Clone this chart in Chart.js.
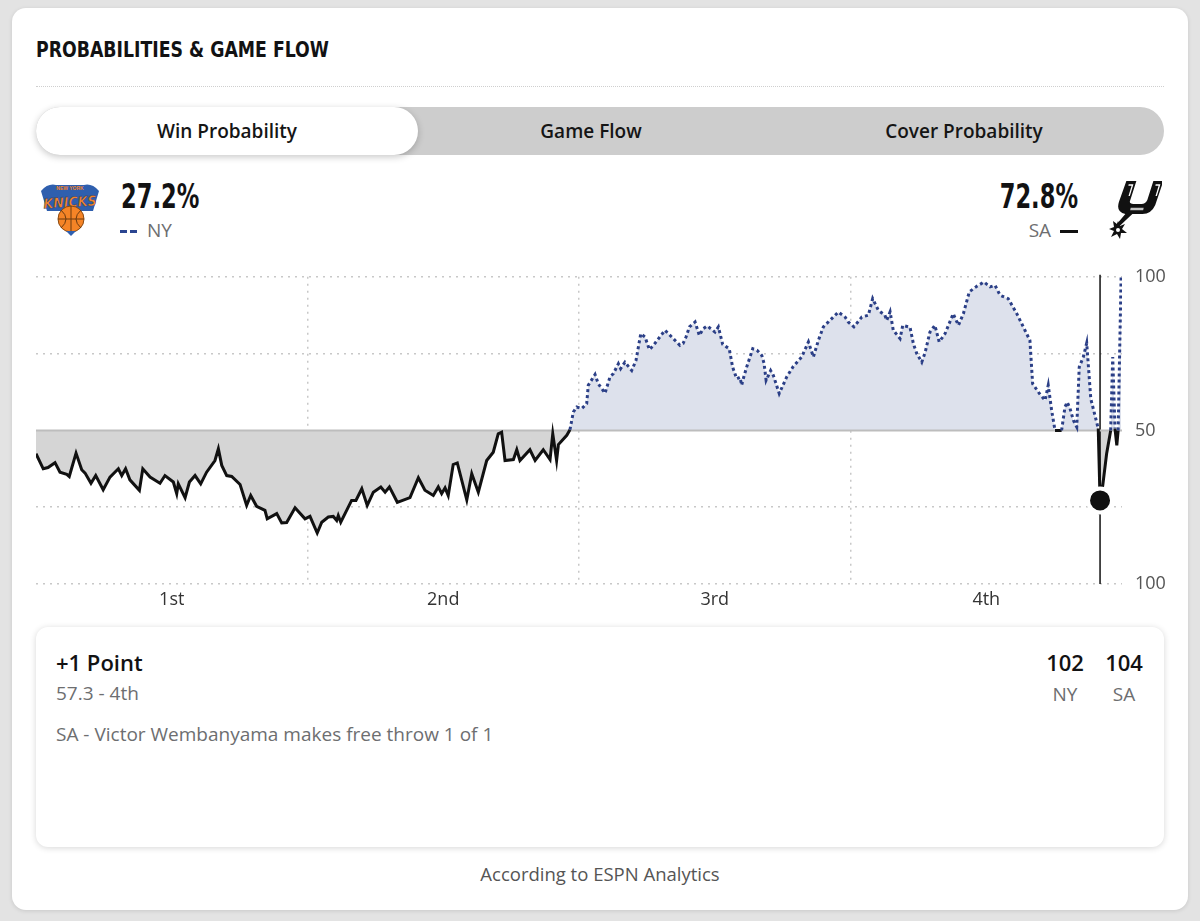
<!DOCTYPE html>
<html>
<head>
<meta charset="utf-8">
<script src="https://cdn.jsdelivr.net/npm/chart.js@4.4.1/dist/chart.umd.min.js"></script>
<style>
  html, body { margin: 0; padding: 0; }
  body {
    width: 1200px; height: 921px; position: relative; overflow: hidden;
    background: #e3e3e3;
    font-family: "Open Sans", Roboto, sans-serif; color: #121213;
  }
  .abs { position: absolute; }
  .card {
    left: 12px; top: 8px; width: 1176px; height: 902px;
    background: #fff; border-radius: 14px;
    box-shadow: 0 1px 4px rgba(0,0,0,0.12);
  }
  .narrow { font-family: "Liberation Sans Narrow", "DejaVu Sans Condensed", Roboto, sans-serif; font-weight: 700; }
  .title {
    left: 36px; top: 36px; font-size: 22px; line-height: 28px;
    transform: scaleX(0.875); transform-origin: left center; white-space: nowrap;
  }
  .sep { left: 36px; top: 86px; width: 1128px; border-top: 1px dotted #cfcfcf; }
  .tabs { left: 36px; top: 107px; width: 1128px; height: 48px; border-radius: 24px; background: #cdcdcd; }
  .tab-on {
    left: 36px; top: 107px; width: 382px; height: 48px; border-radius: 24px; background: #fff;
    box-shadow: 0 2px 7px rgba(0,0,0,0.22);
  }
  .tab { top: 107px; height: 48px; line-height: 48px; text-align: center; font-size: 19px; font-weight: 600; color: #151515; }
  .pct { font-size: 33px; line-height: 34px; top: 180px; white-space: nowrap; }
  .abbr { top: 218px; font-size: 19px; line-height: 24px; color: #6d6e70; }
  .dash { display: inline-block; width: 7px; height: 3px; background: #2b4591; vertical-align: middle; margin-right: 3px; }
  #chartBox { left: 20px; top: 253px; width: 1166px; height: 365px; }
  .play {
    left: 36px; top: 627px; width: 1128px; height: 220px; background: #fff; border-radius: 12px;
    box-shadow: 0 1px 6px rgba(0,0,0,0.16);
  }
  .big { font-size: 22px; font-weight: 600; line-height: 28px; top: 648px; }
  .gray { color: #6d6e70; font-size: 19px; line-height: 24px; }
  .foot { top: 862px; left: 0; width: 1200px; text-align: center; font-size: 18.5px; color: #555; line-height: 24px; }
</style>
</head>
<body>
<div class="abs card"></div>
<div class="abs title narrow">PROBABILITIES &amp; GAME FLOW</div>
<div class="abs sep"></div>

<div class="abs tabs"></div>
<div class="abs tab-on"></div>
<div class="abs tab" style="left:36px;width:382px;">Win Probability</div>
<div class="abs tab" style="left:418px;width:346px;">Game Flow</div>
<div class="abs tab" style="left:764px;width:400px;">Cover Probability</div>

<!-- Knicks mark -->
<svg class="abs" style="left:40px;top:179px;" width="60" height="58" viewBox="0 0 60 58">
  <path d="M1 12 Q8 4 16 6 L44 6 Q52 4 59 12 L53 32 L7 32 Z" fill="#2f5fae"/>
  <text x="30" y="28" text-anchor="middle" font-family="DejaVu Sans Condensed, sans-serif" font-weight="700" font-style="italic" font-size="14" fill="#f58426" stroke="#1d3f7a" stroke-width="0.5" transform="rotate(-3 30 22)">KNICKS</text>
  <text x="30" y="11" text-anchor="middle" font-family="sans-serif" font-weight="700" font-size="5" fill="#f58426">NEW YORK</text>
  <circle cx="31" cy="40" r="13" fill="#f58426" stroke="#8a4a12" stroke-width="1"/>
  <path d="M18 40 H44 M31 27 V53 M21 31 Q31 40 21 49 M41 31 Q31 40 41 49" stroke="#6b3a0f" stroke-width="1" fill="none"/>
  <path d="M26 52 L31 57 L36 52" fill="#2f5fae"/>
</svg>
<div class="abs pct narrow" style="left:121px;transform:scaleX(0.76);transform-origin:left center;">27.2%</div>
<div class="abs abbr" style="left:120px;"><span class="dash"></span><span class="dash"></span><span style="margin-left:7px;">NY</span></div>

<div class="abs pct narrow" style="right:122px;text-align:right;transform:scaleX(0.76);transform-origin:right center;">72.8%</div>
<div class="abs abbr" style="right:122px;text-align:right;">SA <span style="display:inline-block;width:18px;height:3px;background:#111;vertical-align:middle;margin-left:4px;"></span></div>
<!-- Spurs mark -->
<svg class="abs" style="left:1106px;top:178px;" width="56" height="62" viewBox="0 0 56 62">
  <g transform="skewX(-12) translate(6 0)">
    <path d="M15 3 L25 3 L23 22 Q22 26 27 26 L35 26 Q39 26 40 22 L42 3 L52 3 L49 27 Q47 36 38 36 L28 36 L17 49 L14 47 L21 36 Q11 34 12 24 Z" fill="#111"/>
    <path d="M18 7 L22 7 L21 18 M45 7 L49 7 L48 18" stroke="#fff" stroke-width="1.4" fill="none"/>
    <path d="M25 31 L38 31" stroke="#c4c4c4" stroke-width="2.5"/>
  </g>
  <polygon points="12,43 14,48 19,46 16,51 21,55 15,55 14,61 11,56 5,59 8,53 3,51 8,49 7,43 11,46" fill="#111"/>
  <circle cx="12" cy="52" r="2" fill="#fff"/>
</svg>

<div class="abs" id="chartBox"><canvas id="wp"></canvas></div>

<div class="abs play"></div>
<div class="abs big" style="left:56px;">+1 Point</div>
<div class="abs gray" style="left:56px;top:681px;">57.3 - 4th</div>
<div class="abs gray" style="left:56px;top:722px;">SA - Victor Wembanyama makes free throw 1 of 1</div>
<div class="abs big" style="left:1040px;width:50px;text-align:center;">102</div>
<div class="abs big" style="left:1099px;width:50px;text-align:center;">104</div>
<div class="abs gray" style="left:1040px;width:50px;text-align:center;top:682px;">NY</div>
<div class="abs gray" style="left:1099px;width:50px;text-align:center;top:682px;">SA</div>

<div class="abs foot">According to ESPN Analytics</div>

<script>
// minutes elapsed in the game (0-48)
const gameTime = [
  0.00,0.32,0.53,0.84,1.06,1.36,1.47,1.77,2.02,2.17,
  2.43,2.64,2.97,3.27,3.64,3.79,3.96,4.15,4.57,4.72,
  5.04,5.48,5.70,6.07,6.22,6.29,6.59,6.78,7.03,7.28,
  7.54,7.91,8.06,8.21,8.43,8.65,9.02,9.31,9.49,9.75,
  10.12,10.22,10.64,10.86,11.08,11.45,11.89,12.11,12.43,12.63,
  12.92,13.14,13.29,13.36,13.47,13.95,14.14,14.40,14.64,14.91,
  15.24,15.43,15.62,15.97,16.53,16.90,17.19,17.56,17.78,17.93,
  18.08,18.22,18.44,18.62,19.04,19.26,19.55,19.92,20.21,20.43,
  20.58,20.73,21.10,21.25,21.39,21.83,22.06,22.42,22.72,22.84,
  23.01,23.09,23.46,23.60,23.75,23.90,24.12,24.34,24.41,24.71,
  24.85,25.15,25.37,25.52,25.74,25.84,26.03,26.33,26.52,26.73,
  26.92,27.11,27.29,27.80,28.10,28.46,28.60,28.73,28.88,29.13,
  29.32,29.49,29.67,30.01,30.16,30.35,30.64,30.79,30.97,31.12,
  31.19,31.26,31.41,31.68,31.87,32.08,32.18,32.27,32.47,32.59,
  32.85,33.18,33.47,33.84,34.14,34.36,34.58,34.80,35.17,35.46,
  35.76,35.90,36.15,36.50,36.79,36.98,37.23,37.52,37.60,37.75,
  37.89,38.19,38.31,38.63,38.78,38.93,39.15,39.30,39.51,39.73,
  39.92,40.18,40.54,40.77,40.99,41.25,41.58,41.90,42.17,42.39,
  42.61,42.97,43.35,43.71,43.93,44.05,44.35,44.60,44.74,44.89,
  45.04,45.33,45.48,45.58,45.70,45.85,46.00,46.11,46.29,46.44,
  46.62,46.95,47.03,47.15,47.32,47.50,47.59,47.69,47.77,47.83,
  47.96
];

// NY win probability (%), above 50 = NY ahead, below 50 = SA ahead
const nyWinProb = [
  42.4,37.5,37.9,39.5,36.4,35.7,35.0,42.6,37.2,36.1,
  32.8,35.3,30.7,34.8,37.5,35.3,37.5,33.9,30.5,37.5,
  34.8,32.8,35.3,33.2,29.4,32.6,28.1,33.2,35.3,32.6,
  36.4,40.2,44.0,38.6,35.3,35.0,32.4,25.6,28.8,25.3,
  24.0,21.2,22.9,19.9,20.0,24.8,21.2,22.0,16.6,20.1,
  21.8,22.0,20.7,22.3,20.1,27.2,27.2,31.0,25.6,29.9,
  31.6,29.9,31.6,26.6,28.1,34.6,30.5,28.8,31.6,29.4,
  31.3,28.8,38.9,39.4,27.4,35.9,29.9,40.2,42.9,48.9,
  49.4,40.2,40.5,43.7,40.2,43.7,40.2,43.7,40.5,48.9,
  40.2,45.4,48.4,50.2,56.0,57.6,57.1,58.7,64.7,68.2,
  65.2,62.1,67.4,68.5,71.7,70.1,72.2,69.5,72.8,81.5,
  80.4,76.3,77.7,82.6,80.4,77.7,78.3,80.4,83.7,85.3,
  80.9,83.1,84.0,82.0,83.7,78.0,76.6,70.6,66.8,67.3,
  64.7,66.8,70.6,76.6,76.1,74.4,71.8,66.3,69.5,67.9,
  62.0,67.4,70.8,73.9,78.8,73.9,79.3,83.7,86.4,88.5,
  86.9,85.3,83.7,86.9,87.5,92.9,89.1,87.5,85.8,88.6,
  82.6,79.9,84.2,83.6,78.2,75.0,72.2,75.4,82.0,84.2,
  78.8,81.5,88.0,84.2,88.0,95.1,96.9,98.3,96.7,97.2,
  94.0,92.9,88.0,82.6,79.3,65.2,62.0,59.8,64.7,56.5,
  50.0,50.0,57.6,59.2,57.2,53.3,51.1,70.6,73.9,78.4,
  60.3,50.6,27.2,32.1,42.4,50.0,73.9,50.6,45.1,50.0,
  99.8
];

const quarterLabels = ['1st', '2nd', '3rd', '4th'];
const quarterMid = [6, 18, 30, 42];
const quarterEnds = [12, 24, 36];
const yTicks = [0, 25, 50, 75, 100];

// selected play: 57.3 left in the 4th
const hoverTime = 47.03;
const hoverProb = 27.2;

const NAVY = '#2b3f87';
const INK = '#111111';

const puntos = gameTime.map((t, i) => ({ x: t, y: nyWinProb[i] }));
const mitad = ctx => (ctx.p0.parsed.y + ctx.p1.parsed.y) / 2;

const lineaHover = {
  id: 'lineaHover',
  beforeDatasetsDraw(chart) {
    const { ctx, chartArea, scales } = chart;
    const x = scales.x.getPixelForValue(hoverTime);
    ctx.save();
    ctx.strokeStyle = INK;
    ctx.lineWidth = 1.5;
    ctx.beginPath();
    ctx.moveTo(x, chartArea.top - 2);
    ctx.lineTo(x, chartArea.bottom);
    ctx.stroke();
    ctx.restore();
  }
};

new Chart(document.getElementById('wp'), {
  type: 'line',
  data: {
    datasets: [
      {
        data: [{ x: hoverTime, y: hoverProb }],
        pointRadius: 12,
        pointBackgroundColor: INK,
        pointBorderColor: '#ffffff',
        pointBorderWidth: 4,
        showLine: false,
        order: 0,
      },
      {
        data: puntos,
        borderWidth: 3,
        borderColor: INK,
        pointRadius: 0,
        tension: 0,
        fill: { target: { value: 50 }, above: '#dde1ec', below: '#d5d5d5' },
        segment: {
          borderColor: ctx => mitad(ctx) > 50 ? NAVY : INK,
          borderDash: ctx => mitad(ctx) > 50 ? [3, 3] : undefined,
        },
        order: 1,
      },
      {
        data: [{ x: 0, y: 50 }, { x: 48, y: 50 }],
        borderColor: '#bdbdbd',
        borderWidth: 2,
        pointRadius: 0,
        order: 2,
      },
    ],
  },
  options: {
    responsive: true,
    maintainAspectRatio: false,
    animation: false,
    layout: { padding: 0 },
    plugins: {
      legend: { display: false },
      tooltip: { enabled: false },
      filler: { drawTime: 'beforeDatasetsDraw' },
    },
    scales: {
      x: {
        type: 'linear',
        min: 0,
        max: 48,
        afterBuildTicks: s => { s.ticks = [...quarterMid, ...quarterEnds].sort((a, b) => a - b).map(v => ({ value: v })); },
        afterFit: s => { s.height = 34; },
        border: { display: false, dash: [2, 5] },
        grid: {
          drawTicks: false,
          color: c => (c.tick && quarterEnds.includes(c.tick.value)) ? '#c8c8c8' : 'rgba(0,0,0,0)',
          lineWidth: 1.5,
        },
        ticks: {
          padding: 5,
          autoSkip: false,
          maxRotation: 0,
          color: '#333',
          font: { family: 'Open Sans', size: 18 },
          callback: v => { const i = quarterMid.indexOf(v); return i >= 0 ? quarterLabels[i] : ''; },
        },
      },
      y: {
        position: 'right',
        min: 0,
        max: 100,
        afterBuildTicks: s => { s.ticks = yTicks.map(v => ({ value: v })); },
        afterFit: s => { s.width = 64; },
        border: { display: false, dash: [2, 5] },
        grid: {
          drawTicks: false,
          color: c => (c.tick && c.tick.value === 50) ? 'rgba(0,0,0,0)' : '#c8c8c8',
          lineWidth: 1.5,
        },
        ticks: {
          padding: 13,
          color: '#555',
          font: { family: 'Open Sans', size: 18 },
          callback: v => v === 50 ? '50' : (v === 0 || v === 100 ? '100' : ''),
        },
      },
    },
  },
  plugins: [lineaHover],
});
</script>
</body>
</html>
